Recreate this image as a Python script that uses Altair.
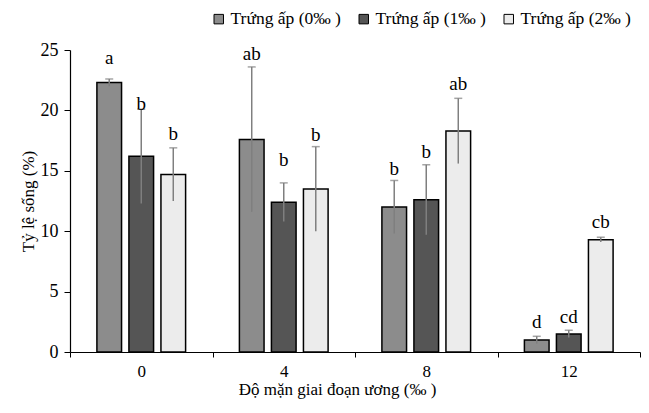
import altair as alt
import pandas as pd

# Data
salinity = ["0", "4", "8", "12"]
series = ["Trứng ấp (0‰ )", "Trứng ấp (1‰ )", "Trứng ấp (2‰ )"]
values_0 = [22.3, 17.6, 12.0, 1.0]
values_1 = [16.2, 12.4, 12.6, 1.5]
values_2 = [14.7, 13.5, 18.3, 9.3]
err_0 = [0.3, 6.0, 2.2, 0.3]
err_1 = [3.9, 1.6, 2.9, 0.3]
err_2 = [2.2, 3.5, 2.7, 0.2]
letters_0 = ["a", "ab", "b", "d"]
letters_1 = ["b", "b", "b", "cd"]
letters_2 = ["b", "b", "ab", "cb"]
label_y_0 = [23.8, 24.2, 14.65, 2.0]
label_y_1 = [20.0, 15.4, 16.1, 2.4]
label_y_2 = [17.55, 17.5, 21.7, 10.3]

rows = []
for s, vals, errs, lets, ly in [
    (series[0], values_0, err_0, letters_0, label_y_0),
    (series[1], values_1, err_1, letters_1, label_y_1),
    (series[2], values_2, err_2, letters_2, label_y_2),
]:
    for i, g in enumerate(salinity):
        rows.append({
            "group": g, "series": s, "value": vals[i],
            "lo": vals[i] - errs[i], "hi": vals[i] + errs[i],
            "letter": lets[i], "ly": ly[i],
        })
df = pd.DataFrame(rows)

FONT = "Liberation Serif"
fills = ["#8c8c8c", "#555555", "#ececec"]

x_enc = alt.X("group:N", sort=salinity,
              scale=alt.Scale(paddingInner=0, paddingOuter=0),
              axis=alt.Axis(title="Độ mặn giai đoạn ương (‰ )", labelAngle=0,
                            tickBand="extent", tickSize=5, tickColor="black",
                            domainColor="black", labelFontSize=17,
                            labelPadding=6, titlePadding=2, titleFontSize=17,
                            titleFontWeight="normal", labelFont=FONT, titleFont=FONT,
                            labelColor="black", titleColor="black", titleX=267))
xo = alt.XOffset("series:N", sort=series,
                 scale=alt.Scale(paddingInner=0.23, paddingOuter=0.84))

yscale = alt.Scale(domain=[0, 25], nice=False, zero=True)

base = alt.Chart(df).encode(x=x_enc, xOffset=xo)

bars = base.mark_bar(stroke="black", strokeWidth=1.5).encode(
    y=alt.Y("value:Q", scale=yscale,
            axis=alt.Axis(title="Tỷ lệ sống (%)", values=[0, 5, 10, 15, 20, 25],
                          grid=False, tickSize=6, tickColor="black",
                          domainColor="black", labelFontSize=18, labelPadding=6,
                          titlePadding=3, titleFontSize=17, titleFontWeight="normal",
                          labelFont=FONT, titleFont=FONT, labelColor="black",
                          titleColor="black")),
    fill=alt.Fill("series:N", sort=series,
                  scale=alt.Scale(domain=series, range=fills),
                  legend=alt.Legend(title=None, orient="none", direction="horizontal",
                                    legendX=140, legendY=-40, symbolType="square",
                                    symbolSize=90, symbolStrokeColor="black",
                                    symbolStrokeWidth=1, labelFont=FONT,
                                    labelFontSize=17.5, labelColor="black",
                                    columnPadding=14, labelOffset=3)),
)

rules = base.mark_rule(color="#7f7f7f", strokeWidth=1.5).encode(
    y=alt.Y("lo:Q", scale=yscale), y2="hi:Q")

caps = base.mark_tick(color="#7f7f7f", thickness=1.5, size=8,
                      orient="horizontal").encode(y=alt.Y("hi:Q", scale=yscale))

texts = base.mark_text(font=FONT, fontSize=19, baseline="alphabetic",
                       color="black").encode(y=alt.Y("ly:Q", scale=yscale),
                                             text="letter:N")

chart = alt.layer(bars, rules, caps, texts).properties(
    width=570, height=302,
    autosize=alt.AutoSizeParams(type="none"),
    padding={"left": 62, "top": 42, "right": 1, "bottom": 49},
).configure_view(stroke=None).configure_axisY(domainWidth=1.2).configure_axisX(domainWidth=1.2)

chart.save("out.html", embed_options={"renderer": "svg", "actions": False})
